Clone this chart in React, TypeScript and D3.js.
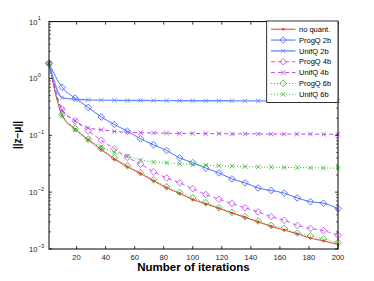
import React from "react";
import * as d3 from "d3";

const iterations = [1, 10, 19, 28, 37, 46, 55, 64, 73, 82, 91, 100, 109, 118, 127, 136, 145, 154, 163, 172, 181, 190, 200];

const noQuant = [1.85, 0.227, 0.129, 0.083, 0.056, 0.038, 0.028, 0.0212, 0.0158, 0.0119, 0.0095, 0.0074, 0.0062, 0.0052, 0.0043, 0.0036, 0.003, 0.0025, 0.00215, 0.00185, 0.00155, 0.00139, 0.0012];
const progQ2b = [1.85, 0.7, 0.45, 0.31, 0.21, 0.155, 0.118, 0.087, 0.068, 0.054, 0.04, 0.033, 0.0265, 0.0218, 0.0171, 0.0146, 0.0118, 0.0107, 0.0096, 0.0079, 0.0068, 0.0064, 0.0051];
const unifQ2b = [1.85, 0.46, 0.43, 0.42, 0.415, 0.412, 0.41, 0.41, 0.408, 0.408, 0.406, 0.406, 0.405, 0.405, 0.404, 0.404, 0.403, 0.403, 0.402, 0.402, 0.401, 0.401, 0.4];
const progQ4b = [1.85, 0.29, 0.18, 0.12, 0.082, 0.058, 0.041, 0.031, 0.0228, 0.0178, 0.0146, 0.0115, 0.0091, 0.0075, 0.0063, 0.0053, 0.0045, 0.0037, 0.0032, 0.0026, 0.0023, 0.0021, 0.00175];
const unifQ4b = [1.85, 0.28, 0.18, 0.135, 0.125, 0.117, 0.113, 0.111, 0.11, 0.109, 0.108, 0.108, 0.107, 0.107, 0.106, 0.106, 0.106, 0.105, 0.105, 0.105, 0.105, 0.104, 0.104];
const progQ6b = [1.85, 0.232, 0.132, 0.086, 0.058, 0.04, 0.029, 0.022, 0.0165, 0.0124, 0.0099, 0.0079, 0.0065, 0.0053, 0.0044, 0.0037, 0.0031, 0.0026, 0.0023, 0.0019, 0.0017, 0.0015, 0.0013];
const unifQ6b = [1.85, 0.225, 0.125, 0.085, 0.063, 0.05, 0.043, 0.037, 0.034, 0.0328, 0.0315, 0.0305, 0.0298, 0.0292, 0.0287, 0.0282, 0.0278, 0.0275, 0.0272, 0.027, 0.0268, 0.0266, 0.0265];

const xTicks = [20, 40, 60, 80, 100, 120, 140, 160, 180, 200];
const yExponents = [1, 0, -1, -2, -3];

const seriesNames = ["no quant.", "ProgQ 2b", "UnifQ 2b", "ProgQ 4b", "UnifQ 4b", "ProgQ 6b", "UnifQ 6b"];
const seriesValues = [noQuant, progQ2b, unifQ2b, progQ4b, unifQ4b, progQ6b, unifQ6b];

const styles = [
  { color: "#ff3030", marker: "dot", dash: "", width: 1 },
  { color: "#4a6cff", marker: "diamond", dash: "", width: 1 },
  { color: "#6f8cff", marker: "x", dash: "", width: 1.4 },
  { color: "#cc55ff", marker: "diamond", dash: "4,3", width: 1 },
  { color: "#bb44ee", marker: "x", dash: "4,3", width: 1 },
  { color: "#3cb83c", marker: "diamond", dash: "1,2", width: 1 },
  { color: "#3cb83c", marker: "x", dash: "1,2", width: 1 },
];

const W = 374, H = 281;
const left = 49, right = 338, top = 21.6, bottom = 249;

function Marker({ kind, x, y, color }: { kind: string; x: number; y: number; color: string }) {
  if (kind === "diamond") {
    const r = 3.3;
    return <path d={`M${x},${y - r}L${x + r},${y}L${x},${y + r}L${x - r},${y}Z`} fill="none" stroke={color} strokeWidth={0.9} />;
  }
  if (kind === "x") {
    const r = 2.2;
    return <path d={`M${x - r},${y - r}L${x + r},${y + r}M${x - r},${y + r}L${x + r},${y - r}`} stroke={color} strokeWidth={0.9} />;
  }
  return <circle cx={x} cy={y} r={1.3} fill={color} />;
}

export default function App() {
  const xs = d3.scaleLinear().domain([1, 200]).range([left, right]);
  const ys = d3.scaleLog().domain([1e-3, 10]).range([bottom, top]);
  const line = d3
    .line<number>()
    .x((_, i) => xs(iterations[i]))
    .y((v) => ys(v))
    .curve(d3.curveMonotoneX);

  const minorTicks: number[] = [];
  for (let e = -3; e < 1; e++) {
    for (let m = 2; m <= 9; m++) minorTicks.push(m * Math.pow(10, e));
  }

  const font = "'Liberation Sans', Arial, Helvetica, sans-serif";
  const legX = 266.7, legY = 21, legW = 338 - 266.7, legH = 81.5;

  return (
    <svg width={W} height={H} style={{ position: "absolute", left: 0, top: 0, background: "#fff" }} fontFamily={font}>
      <rect x={0} y={0} width={W} height={H} fill="#fff" />
      <defs>
        <clipPath id="plotclip">
          <rect x={left - 5} y={top - 5} width={right - left + 10} height={bottom - top + 10} />
        </clipPath>
      </defs>
      {/* series */}
      <g clipPath="url(#plotclip)">
        {seriesValues.map((vals, si) => (
          <path key={si} d={line(vals) || ""} fill="none" stroke={styles[si].color} strokeWidth={styles[si].width} strokeDasharray={styles[si].dash} />
        ))}
        {seriesValues.map((vals, si) => (
          <g key={"m" + si}>
            {vals.map((v, i) => (
              <Marker key={i} kind={styles[si].marker} x={xs(iterations[i])} y={ys(v)} color={styles[si].color} />
            ))}
          </g>
        ))}
      </g>
      {/* axes box */}
      <rect x={left} y={top} width={right - left} height={bottom - top} fill="none" stroke="#000" strokeWidth={1} />
      {xTicks.map((t) => (
        <g key={t}>
          <line x1={xs(t)} x2={xs(t)} y1={bottom} y2={bottom - 3} stroke="#000" strokeWidth={0.8} />
          <line x1={xs(t)} x2={xs(t)} y1={top} y2={top + 3} stroke="#000" strokeWidth={0.8} />
          <text x={xs(t)} y={bottom + 10.5} fontSize={7.6} textAnchor="middle" fill="#222">{t}</text>
        </g>
      ))}
      {yExponents.map((e) => {
        const y = ys(Math.pow(10, e));
        return (
          <g key={e}>
            <line x1={left} x2={left + 3} y1={y} y2={y} stroke="#000" strokeWidth={0.8} />
            <line x1={right} x2={right - 3} y1={y} y2={y} stroke="#000" strokeWidth={0.8} />
            <text x={37.5} y={y + 3} fontSize={7.6} textAnchor="end" fill="#222">10</text>
            <text x={37.7} y={y - 1.5} fontSize={5.6} textAnchor="start" fill="#222">{e < 0 ? "\u2212" + Math.abs(e) : String(e)}</text>
          </g>
        );
      })}
      {minorTicks.map((m, i) => {
        const y = ys(m);
        return (
          <g key={"mn" + i}>
            <line x1={left} x2={left + 2} y1={y} y2={y} stroke="#000" strokeWidth={0.6} />
            <line x1={right} x2={right - 2} y1={y} y2={y} stroke="#000" strokeWidth={0.6} />
          </g>
        );
      })}
      <text x={(left + right) / 2} y={271} fontSize={11.5} fontWeight="bold" textAnchor="middle" fill="#000">Number of iterations</text>
      <text transform={`translate(20.5,135) rotate(-90)`} fontSize={10} fontWeight="bold" textAnchor="middle" fill="#000">||z−μ||</text>
      {/* legend */}
      <rect x={legX} y={legY} width={legW} height={legH} fill="#fff" stroke="#000" strokeWidth={0.8} />
      {seriesNames.map((name, i) => {
        const y = 29.2 + i * 10.85;
        return (
          <g key={name}>
            <line x1={271} x2={295.5} y1={y} y2={y} stroke={styles[i].color} strokeWidth={styles[i].width} strokeDasharray={styles[i].dash} />
            <Marker kind={styles[i].marker} x={283.2} y={y} color={styles[i].color} />
            <text x={299} y={y + 2.7} fontSize={7.5} fill="#000">{name}</text>
          </g>
        );
      })}
    </svg>
  );
}
